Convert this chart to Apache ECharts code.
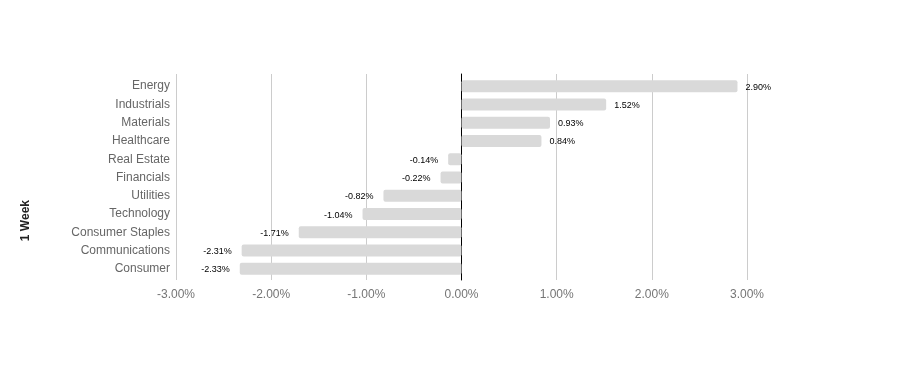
<!DOCTYPE html>
<html>
<head>
<meta charset="utf-8">
<script src="https://cdn.jsdelivr.net/npm/echarts@6/dist/echarts.min.js"></script>
<style>html,body{margin:0;padding:0;background:#fff}#c{width:924px;height:391px}</style>
</head>
<body>
<div id="c"></div>
<script>
const categories = ['Energy','Industrials','Materials','Healthcare','Real Estate','Financials','Utilities','Technology','Consumer Staples','Communications','Consumer'];
const values = [2.90, 1.52, 0.93, 0.84, -0.14, -0.22, -0.82, -1.04, -1.71, -2.31, -2.33];
const xTicks = [-3, -2, -1, 0, 1, 2, 3];
const axisTitle = '1 Week';

const chart = echarts.init(document.getElementById('c'), null, {renderer: 'canvas'});
const fmt = v => v.toFixed(2) + '%';
chart.setOption({
  animation: false,
  grid: [
    {left: 176, right: 177, top: 77, height: 201},
    {left: 176, right: 177, top: 74, height: 206}
  ],
  xAxis: [
    {gridIndex: 0, type: 'value', min: xTicks[0], max: xTicks[xTicks.length-1], interval: 1,
     axisLine: {show: false}, axisTick: {show: false}, axisLabel: {show: false}, splitLine: {show: false}},
    {gridIndex: 1, type: 'value', min: xTicks[0], max: xTicks[xTicks.length-1], interval: 1,
     axisLine: {show: false}, axisTick: {show: false},
     axisLabel: {color: '#757575', fontFamily: 'Liberation Sans, Arial', fontSize: 12, margin: 9, formatter: v => fmt(v)},
     splitLine: {show: true, lineStyle: {color: '#cccccc', width: 1}}}
  ],
  yAxis: [
    {gridIndex: 0, type: 'category', inverse: true, data: categories,
     axisLine: {show: false}, axisTick: {show: false},
     axisLabel: {color: '#666666', fontFamily: 'Liberation Sans, Arial', fontSize: 12, margin: 6, padding: [2, 0, 0, 0]}},
    {gridIndex: 1, type: 'value', min: 0, max: 1, show: true,
     axisLine: {show: true, onZero: true, lineStyle: {color: '#000000', width: 1}},
     axisTick: {show: false}, axisLabel: {show: false}, splitLine: {show: false}}
  ],
  series: [{
    type: 'bar', xAxisIndex: 0, yAxisIndex: 0,
    data: values.map(v => ({
      value: v,
      label: {show: true, position: v >= 0 ? 'right' : 'left', distance: v >= 0 ? 8 : 10,
              offset: [0, 1],
              formatter: () => fmt(v), color: '#000', fontSize: 9, fontFamily: 'Liberation Sans, Arial'}
    })),
    barWidth: 12,
    itemStyle: {color: '#d9d9d9', borderRadius: 2}
  }],
  graphic: [{
    type: 'text', left: 20, top: 200, rotation: Math.PI/2,
    style: {text: axisTitle, fill: '#222222', font: 'bold 12px "Liberation Sans", Arial'}
  }]
});
</script>
</body>
</html>
